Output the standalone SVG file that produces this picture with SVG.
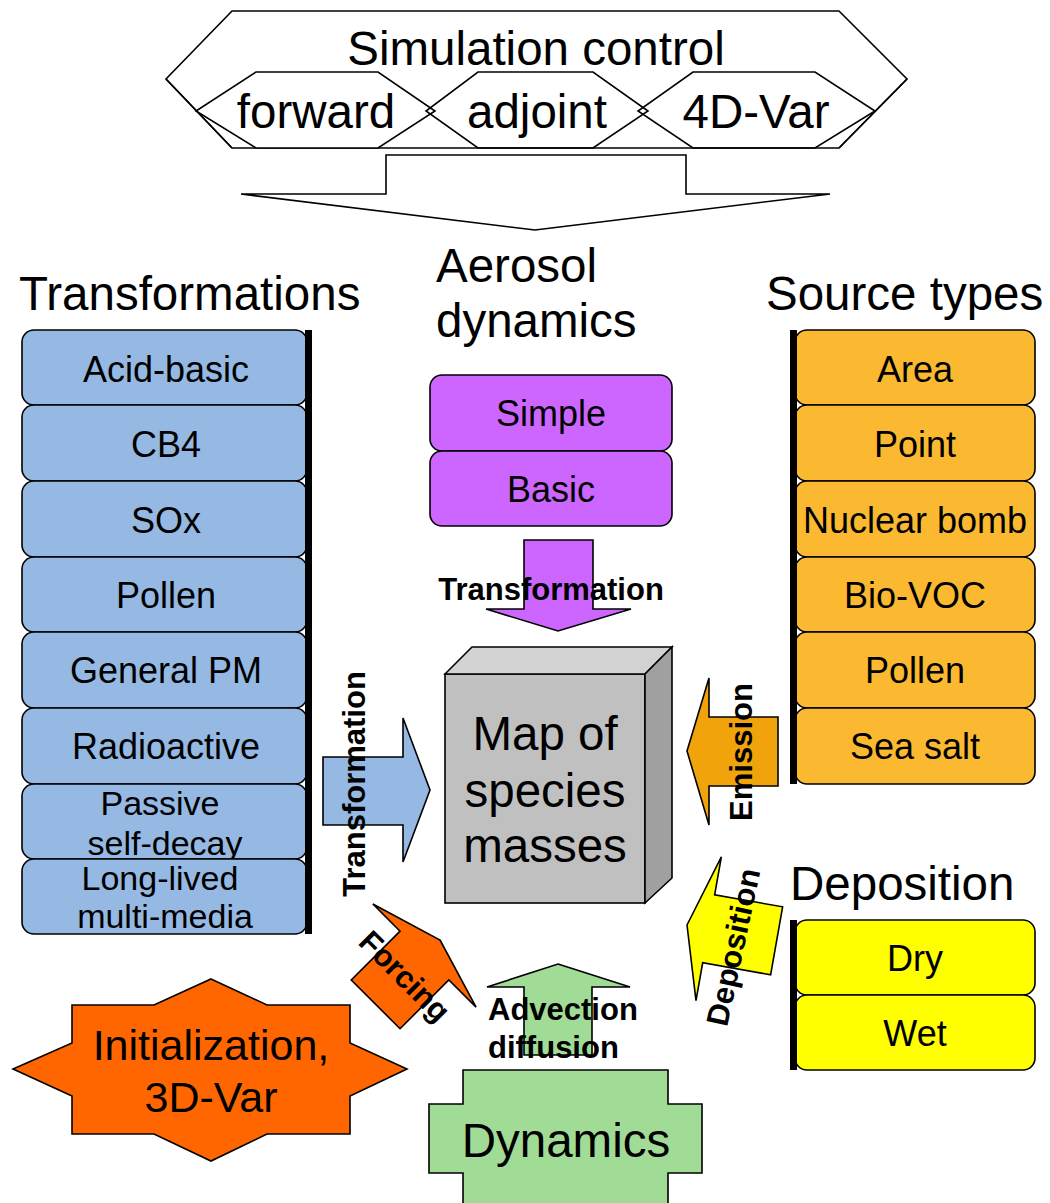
<svg xmlns="http://www.w3.org/2000/svg" width="1050" height="1203" viewBox="0 0 1050 1203">
<style>
text{font-family:"Liberation Sans",Arial,sans-serif;fill:#000}
.big{font-size:47.5px}
.item{font-size:36px;text-anchor:middle}
.small{font-size:34px;text-anchor:middle}
.lbl{font-size:31px;font-weight:bold}
.mid{text-anchor:middle}
.ln{stroke:#000;stroke-width:1.6;stroke-linejoin:miter}
.blue{fill:#95B9E3}
.orng{fill:#FBB931}
.yel{fill:#FFFF00}
.purp{fill:#CC66FF}
.grn{fill:#A0DC96}
.red{fill:#FF6600}
.wht{fill:#FFFFFF}
.bar{fill:#000}
</style>
<defs>
<polygon id="arr" points="0,0 22,-73 22,-34.5 91,-34.5 91,34.5 22,34.5 22,73"/>
</defs>
<rect width="1050" height="1203" fill="#fff"/>

<g id="simulation-control">
<polygon class="ln wht" points="232,11 839,11 907,79 839,148 232,148 166,79"/>
<polygon class="ln wht" points="256,72 378,72 435,111 378,148 256,148 196,111"/>
<polygon class="ln" fill="none" points="478,72 593,72 648,111 593,148 478,148 426,111"/>
<polygon class="ln" fill="none" points="693,72 815,72 875,111 815,148 693,148 638,111"/>
<line class="ln" x1="166" y1="79" x2="232" y2="148"/>
<line class="ln" x1="907" y1="79" x2="839" y2="148"/>
<text class="big mid" x="536" y="65">Simulation control</text>
<text class="big mid" x="316" y="128">forward</text>
<text class="big mid" x="537" y="128">adjoint</text>
<text class="big mid" x="756" y="128">4D-Var</text>
</g>

<g id="transformations">
<text class="big" x="19" y="310">Transformations</text>
<g id="tr-acid"><rect class="ln blue" x="22" y="330" width="285" height="75" rx="12"/><text class="item" x="166" y="382">Acid-basic</text></g>
<g id="tr-cb4"><rect class="ln blue" x="22" y="405" width="285" height="76" rx="12"/><text class="item" x="166" y="457">CB4</text></g>
<g id="tr-sox"><rect class="ln blue" x="22" y="481" width="285" height="76" rx="12"/><text class="item" x="166" y="533">SOx</text></g>
<g id="tr-pollen"><rect class="ln blue" x="22" y="557" width="285" height="75" rx="12"/><text class="item" x="166" y="608">Pollen</text></g>
<g id="tr-pm"><rect class="ln blue" x="22" y="632" width="285" height="76" rx="12"/><text class="item" x="166" y="683">General PM</text></g>
<g id="tr-radio"><rect class="ln blue" x="22" y="708" width="285" height="76" rx="12"/><text class="item" x="166" y="759">Radioactive</text></g>
<g id="tr-passive"><rect class="ln blue" x="22" y="784" width="285" height="75" rx="12"/><text class="small" x="160" y="815">Passive</text><text class="small" x="165" y="855">self-decay</text></g>
<g id="tr-long"><rect class="ln blue" x="22" y="859" width="285" height="75" rx="12"/><text class="small" x="160" y="890">Long-lived</text><text class="small" x="165" y="928">multi-media</text></g>
<rect class="bar" x="305" y="330" width="7" height="604"/>
</g>

<g id="aerosol-dynamics">
<text class="big" x="436" y="282">Aerosol</text>
<text class="big" x="436" y="337">dynamics</text>
<g id="ae-simple"><rect class="ln purp" x="430" y="375" width="242" height="76" rx="12"/><text class="item" x="551" y="426">Simple</text></g>
<g id="ae-basic"><rect class="ln purp" x="430" y="451" width="242" height="75" rx="12"/><text class="item" x="551" y="502">Basic</text></g>
</g>

<g id="source-types">
<text class="big" x="766" y="310">Source types</text>
<g id="src-area"><rect class="ln orng" x="795" y="330" width="240" height="75" rx="12"/><text class="item" x="915" y="382">Area</text></g>
<g id="src-point"><rect class="ln orng" x="795" y="405" width="240" height="76" rx="12"/><text class="item" x="915" y="457">Point</text></g>
<g id="src-nuclear"><rect class="ln orng" x="795" y="481" width="240" height="76" rx="12"/><text class="item" x="915" y="533">Nuclear bomb</text></g>
<g id="src-biovoc"><rect class="ln orng" x="795" y="557" width="240" height="75" rx="12"/><text class="item" x="915" y="608">Bio-VOC</text></g>
<g id="src-pollen"><rect class="ln orng" x="795" y="632" width="240" height="76" rx="12"/><text class="item" x="915" y="683">Pollen</text></g>
<g id="src-seasalt"><rect class="ln orng" x="795" y="708" width="240" height="76" rx="12"/><text class="item" x="915" y="759">Sea salt</text></g>
<rect class="bar" x="790" y="330" width="7" height="454"/>
</g>

<g id="deposition">
<text class="big" x="790" y="900">Deposition</text>
<g id="dep-dry"><rect class="ln yel" x="795" y="920" width="240" height="75" rx="12"/><text class="item" x="915" y="971">Dry</text></g>
<g id="dep-wet"><rect class="ln yel" x="795" y="995" width="240" height="75" rx="12"/><text class="item" x="915" y="1046">Wet</text></g>
<rect class="bar" x="790" y="920" width="7" height="150"/>
</g>

<g id="species-map">
<rect class="ln" fill="#C0C0C0" x="445" y="674" width="200" height="229"/>
<polygon class="ln" fill="#D2D2D2" points="445,674 472,647 672,647 645,674"/>
<polygon class="ln" fill="#A0A0A0" points="645,674 672,647 672,878 645,903"/>
<text class="big mid" x="545" y="750">Map of</text>
<text class="big mid" x="545" y="807">species</text>
<text class="big mid" x="545" y="862">masses</text>
</g>

<g id="initialization">
<polygon class="ln red" points="211,979 267,1005 350,1005 350,1043 407,1069 350,1096 350,1134 267,1134 211,1161 154,1134 72,1134 72,1096 13,1069 72,1043 72,1005 154,1005"/>
<text class="mid" font-size="43" x="211" y="1060">Initialization,</text>
<text class="mid" font-size="43" x="211" y="1112">3D-Var</text>
</g>

<g id="dynamics">
<polygon class="ln grn" points="463,1070 668,1070 668,1104 702,1104 702,1173 668,1173 668,1210 463,1210 463,1173 429,1173 429,1104 463,1104"/>
<text class="big mid" x="566" y="1157">Dynamics</text>
</g>

<g id="connectors">
<polygon class="ln wht" points="386,155 686,155 686,194 830,194 535,230 241,194 386,194"/>
<g id="c-aerosol"><polygon class="ln purp" points="524,540 593,540 593,609 631,609 558,631 486,609 524,609"/><text class="lbl mid" x="551" y="600">Transformation</text></g>
<g id="c-transf"><polygon class="ln blue" points="323,757 403,757 403,718 430,790 403,862 403,825 323,825"/><text class="lbl mid" transform="translate(365,784) rotate(-90)">Transformation</text></g>
<g id="c-emission"><polygon class="ln" fill="#F0A30A" points="778,717 709,717 709,678 687,751 709,825 709,786 778,786"/><text class="lbl mid" transform="translate(752,752) rotate(-90)">Emission</text></g>
<g id="c-deposition"><use href="#arr" class="ln yel" transform="translate(687,925) rotate(10)"/><text class="lbl mid" y="11" transform="translate(733,947) rotate(-78)">Deposition</text></g>
<g id="c-forcing"><use href="#arr" class="ln red" transform="translate(440,940) rotate(135)"/><text class="lbl mid" y="11" transform="translate(405,976) rotate(45)">Forcing</text></g>
<g id="c-advection"><polygon class="ln grn" points="558,964 630,987 592,987 592,1055 524,1055 524,987 487,987"/><text class="lbl" x="488" y="1020">Advection</text><text class="lbl" x="488" y="1058">diffusion</text></g>
</g>
</svg>
